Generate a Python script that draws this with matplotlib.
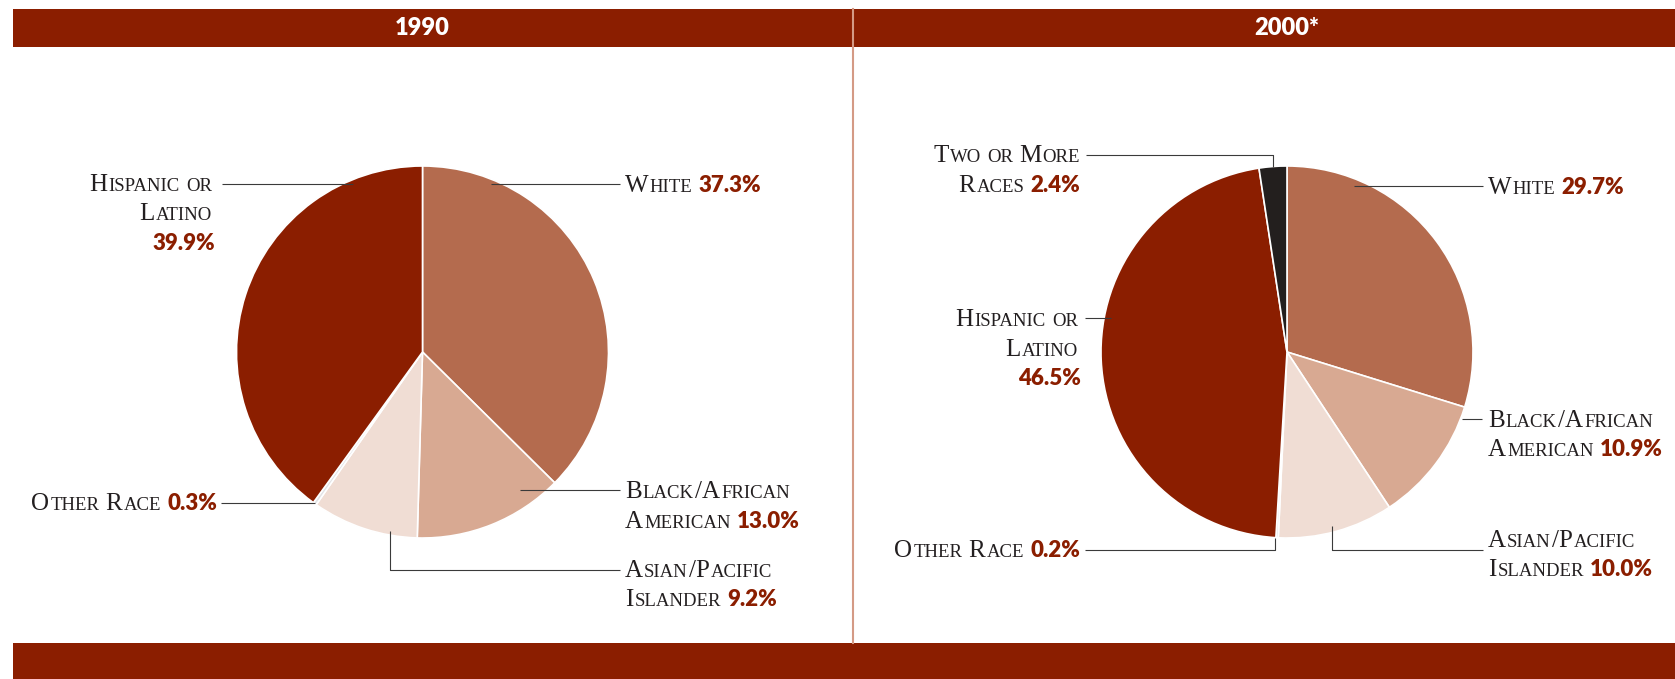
import matplotlib
matplotlib.use('Agg')
import matplotlib.pyplot as plt
from matplotlib.patches import Rectangle

W, H = 1675, 679

# data
groups = ['White', 'Black/African American', 'Asian/Pacific Islander',
          'Other Race', 'Hispanic or Latino', 'Two or More Races']
years = ['1990', '2000*']
share_1990 = [37.3, 13.0, 9.2, 0.3, 39.9]
share_2000 = [29.7, 10.9, 10.0, 0.2, 46.5, 2.4]
colors = ['#B46B4E', '#D8A992', '#F0DDD4', '#E2E3E6', '#8B1E00', '#231F1E']

# how each label is broken over lines ('' = percent on its own line)
label_lines = {
    'White': ['White'],
    'Black/African American': ['Black/African', 'American'],
    'Asian/Pacific Islander': ['Asian/Pacific', 'Islander'],
    'Other Race': ['Other Race'],
    'Hispanic or Latino': ['Hispanic or', 'Latino', ''],
    'Two or More Races': ['Two or More', 'Races'],
}

RED = '#8B1E00'
INK = '#231F20'
LEAD = '#3a3a3a'
SERIF = 'Liberation Serif'
SANS = 'Lato'
BIG, SMALL, PCT = 18, 13.5, 16
SPACE, KERN, LINE = 6.0, 1.2, 29.5

# layout, in image pixels (y down): side, text x, first baseline, leader path
layout_1990 = {
    'Hispanic or Latino': ('right', 212, 191, [(222, 184), (353, 184)]),
    'White': ('left', 625, 192, [(491, 184), (620, 184)]),
    'Other Race': ('right', 217, 510, [(221, 503), (315, 503)]),
    'Black/African American': ('left', 625, 498, [(520, 490), (620, 490)]),
    'Asian/Pacific Islander': ('left', 625, 577, [(390, 531), (390, 570), (620, 570)]),
}
layout_2000 = {
    'Two or More Races': ('right', 1080, 162, [(1086, 155), (1273, 155), (1273, 167)]),
    'White': ('left', 1488, 194, [(1354, 186), (1483, 186)]),
    'Hispanic or Latino': ('right', 1078, 326, [(1085, 318), (1111, 318)]),
    'Black/African American': ('left', 1488, 427, [(1462, 419), (1482, 419)]),
    'Asian/Pacific Islander': ('left', 1488, 547, [(1332, 526), (1332, 550), (1483, 550)]),
    'Other Race': ('right', 1080, 557, [(1085, 550), (1275, 550), (1275, 538)]),
}
pie_centers = [(422.5, 352), (1287, 352)]
pie_radius = 186

fig = plt.figure(figsize=(W / 100, H / 100), dpi=100)
ax = fig.add_axes([0, 0, 1, 1])
renderer = fig.canvas.get_renderer()


def sc_chunks(word):
    out = []
    for ch in word:
        big = not ch.islower()
        if out and out[-1][1] == big:
            out[-1][0] += ch.upper()
        else:
            out.append([ch.upper(), big])
    return out


def put_line(x, y, text, pct, ha):
    items = []
    for i, w in enumerate(text.split()):
        if i:
            items.append(SPACE)
        for j, (s, big) in enumerate(sc_chunks(w)):
            if j:
                items.append(KERN)
            items.append(ax.text(0, y, s, fontsize=BIG if big else SMALL,
                                 family=SERIF, color=INK, va='baseline'))
    if pct:
        if items:
            items.append(SPACE)
        items.append(ax.text(0, y, pct, fontsize=PCT, family=SANS,
                             weight='heavy', color=RED, va='baseline'))
    widths = [it if isinstance(it, float) else
              it.get_window_extent(renderer).width for it in items]
    cur = x - sum(widths) if ha == 'right' else x
    for it, w in zip(items, widths):
        if not isinstance(it, float):
            it.set_x(cur)
        cur += w


for shares, layout, (cx, cy) in zip([share_1990, share_2000],
                                    [layout_1990, layout_2000], pie_centers):
    n = len(shares)
    ax.pie(shares, colors=colors[:n], startangle=-90, counterclock=True,
           center=(cx, cy), radius=pie_radius, normalize=True,
           wedgeprops=dict(edgecolor='white', linewidth=1.2))
    for g, v in zip(groups[:n], shares):
        side, tx, ty, path = layout[g]
        ha = 'right' if side == 'right' else 'left'
        lines = label_lines[g]
        for k, ln in enumerate(lines):
            pct = f'{v:.1f}%' if k == len(lines) - 1 else None
            put_line(tx + (3 if (ha == 'right' and ln == '') else 0),
                     ty + k * LINE, ln, pct, ha)
        xs, ys = zip(*path)
        ax.plot(xs, ys, color=LEAD, lw=0.8, solid_capstyle='butt', zorder=3)

# header / footer bars and divider
ax.add_patch(Rectangle((12.8, 9), W - 12.8, 38, color=RED, lw=0, zorder=4))
ax.add_patch(Rectangle((12.8, 643), W - 12.8, 40, color=RED, lw=0, zorder=4))
ax.plot([853, 853], [9, 643], color='#D49A85', lw=1.5, zorder=5)
for yr, (cx, cy) in zip(years, pie_centers):
    ax.text(cx, 28, yr, color='white', fontsize=17, family=SANS,
            weight='heavy', ha='center', va='center', zorder=6)

ax.set_xlim(0, W)
ax.set_ylim(H, 0)
ax.axis('off')
fig.savefig('out.png', dpi=100)
